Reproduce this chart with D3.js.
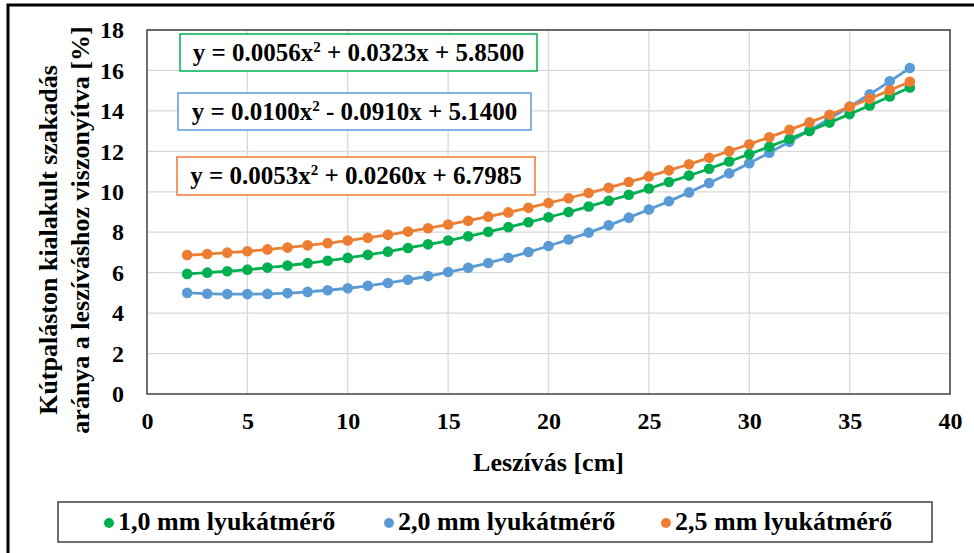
<!DOCTYPE html>
<html><head><meta charset="utf-8">
<script src="https://cdn.jsdelivr.net/npm/d3@7"></script>
<style>body{margin:0;background:#fff}svg{display:block}</style>
</head><body>
<script>
const xValues = [2,3,4,5,6,7,8,9,10,11,12,13,14,15,16,17,18,19,20,21,22,23,24,25,26,27,28,29,30,31,32,33,34,35,36,37,38];
const green = [5.94,6.00,6.07,6.15,6.25,6.35,6.47,6.59,6.73,6.88,7.04,7.22,7.40,7.59,7.80,8.02,8.25,8.49,8.74,9.00,9.27,9.56,9.85,10.16,10.48,10.80,11.14,11.50,11.86,12.23,12.62,13.01,13.42,13.84,14.27,14.71,15.16];
const blue = [5.00,4.96,4.94,4.94,4.95,4.99,5.05,5.13,5.23,5.35,5.49,5.65,5.83,6.03,6.24,6.48,6.74,7.02,7.32,7.64,7.98,8.34,8.72,9.12,9.53,9.97,10.43,10.91,11.41,11.93,12.47,13.03,13.61,14.21,14.82,15.46,16.12];
const orange = [6.87,6.92,6.99,7.06,7.15,7.24,7.35,7.46,7.59,7.73,7.87,8.03,8.20,8.38,8.57,8.77,8.98,9.21,9.44,9.68,9.94,10.20,10.48,10.76,11.06,11.36,11.68,12.01,12.35,12.70,13.06,13.43,13.81,14.20,14.60,15.02,15.44];
const seriesNames = ["1,0 mm lyukátmérő","2,0 mm lyukátmérő","2,5 mm lyukátmérő"];
const equations = [["y = 0.0056x","2"," + 0.0323x + 5.8500"],["y = 0.0100x","2"," - 0.0910x + 5.1400"],["y = 0.0053x","2"," + 0.0260x + 6.7985"]];
const xTicks = [0,5,10,15,20,25,30,35,40];
const yTicks = [0,2,4,6,8,10,12,14,16,18];
const colors = ["#00B050","#5B9BD5","#ED7D31"];

const FONT="'Liberation Serif','Times New Roman',serif";
const W=974,H=553;
const svg=d3.select("body").append("svg").attr("width",W).attr("height",H)
  .style("font-family",FONT).attr("font-weight","bold");
svg.append("rect").attr("x",8).attr("y",5).attr("width",990).attr("height",600).attr("fill","none").attr("stroke","#000").attr("stroke-width",3);

const L=147,R=950,T=30,B=394;
const x=d3.scaleLinear().domain([0,40]).range([L,R]);
const y=d3.scaleLinear().domain([0,18]).range([B,T]);

// grid
svg.append("g").selectAll("line").data(yTicks.slice(1)).join("line")
 .attr("x1",L).attr("x2",R).attr("y1",d=>y(d)).attr("y2",d=>y(d)).attr("stroke","#d9d9d9").attr("stroke-width",1.3);
svg.append("g").selectAll("line").data(xTicks.slice(1)).join("line")
 .attr("y1",T).attr("y2",B).attr("x1",d=>x(d)).attr("x2",d=>x(d)).attr("stroke","#d9d9d9").attr("stroke-width",1.3);
svg.append("rect").attr("x",L).attr("y",T).attr("width",R-L).attr("height",B-T).attr("fill","none").attr("stroke","#404040").attr("stroke-width",1.5);

// axes
const ya=svg.append("g").attr("transform",`translate(${L},0)`).call(d3.axisLeft(y).tickValues(yTicks).tickSize(0).tickPadding(23));
const xa=svg.append("g").attr("transform",`translate(0,${B})`).call(d3.axisBottom(x).tickValues(xTicks).tickSize(0).tickPadding(18));
[ya,xa].forEach(a=>{a.attr("font-family",null).attr("font-size",24);a.select(".domain").remove();a.selectAll("text").attr("fill","#000");});

svg.append("text").attr("x",(L+R)/2).attr("y",471).attr("text-anchor","middle").attr("font-size",26).text("Leszívás [cm]");
svg.append("text").attr("transform",`translate(57,240) rotate(-90)`).attr("text-anchor","middle").attr("font-size",26).text("Kútpaláston kialakult szakadás");
svg.append("text").attr("transform",`translate(89,230) rotate(-90)`).attr("text-anchor","middle").attr("font-size",26).text("aránya a leszíváshoz viszonyítva [%]");

// series
const data=[green,blue,orange];
const order=[1,0,2];
order.forEach(i=>{
 const pts=xValues.map((xv,j)=>[xv,data[i][j]]);
 svg.append("path").datum(pts).attr("fill","none").attr("stroke",colors[i]).attr("stroke-width",2.8)
  .attr("d",d3.line().x(d=>x(d[0])).y(d=>y(d[1])).curve(d3.curveMonotoneX));
 svg.append("g").selectAll("circle").data(pts).join("circle").attr("cx",d=>x(d[0])).attr("cy",d=>y(d[1])).attr("r",5.3).attr("fill",colors[i]);
});

// equation boxes
const boxes=[{x:180,y:34,w:357,h:37},{x:178,y:93,w:353,h:37},{x:177,y:157,w:358,h:38}];
boxes.forEach((b,i)=>{
 svg.append("rect").attr("x",b.x).attr("y",b.y).attr("width",b.w).attr("height",b.h).attr("fill","#fff").attr("stroke",colors[i]).attr("stroke-width",1.5);
 const t=svg.append("text").attr("x",b.x+b.w/2).attr("y",b.y+b.h/2+8).attr("text-anchor","middle").attr("font-size",25);
 t.append("tspan").text(equations[i][0]);
 t.append("tspan").attr("dy",-9).attr("font-size",15).text(equations[i][1]);
 t.append("tspan").attr("dy",9).text(equations[i][2]);
});

// legend
svg.append("rect").attr("x",58).attr("y",502).attr("width",874).attr("height",40).attr("fill","#fff").attr("stroke","#404040").attr("stroke-width",1.5);
const lx=[109,389,666];
seriesNames.forEach((n,i)=>{
 svg.append("circle").attr("cx",lx[i]).attr("cy",523).attr("r",5).attr("fill",colors[i]);
 svg.append("text").attr("x",lx[i]+9).attr("y",530).attr("font-size",26).text(n);
});
</script>
</body></html>
